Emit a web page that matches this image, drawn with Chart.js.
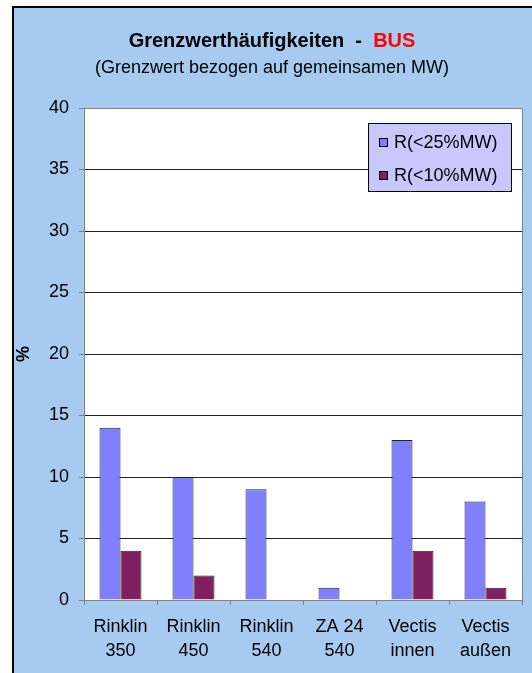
<!DOCTYPE html>
<html>
<head>
<meta charset="utf-8">
<script src="https://cdn.jsdelivr.net/npm/chart.js@4"></script>
<style>
  html, body { margin: 0; padding: 0; background: #fff; }
  #wrap { width: 532px; height: 673px; position: relative; }
</style>
</head>
<body>
<div id="wrap"><canvas id="grenzChart" width="532" height="673"></canvas></div>
<script>
// Werte
const categories = [['Rinklin', '350'], ['Rinklin', '450'], ['Rinklin', '540'], ['ZA 24', '540'], ['Vectis', 'innen'], ['Vectis', 'außen']];
const r25 = [14, 10, 9, 1, 13, 8];
const r10 = [4, 2, 0, 0, 4, 1];
const seriesLabels = ['R(<25%MW)', 'R(<10%MW)'];
const yMax = 40;
const yStep = 5;

const FONT = '"Liberation Sans", Arial, sans-serif';

// blue panel, title, frame and legend
const decor = {
  id: 'decor',
  beforeDraw(chart) {
    const ctx = chart.ctx;
    ctx.save();
    ctx.fillStyle = '#fff';
    ctx.fillRect(0, 0, chart.width, chart.height);
    ctx.fillStyle = '#000';
    ctx.fillRect(12, 6, chart.width, chart.height);
    ctx.fillStyle = '#a6caf0';
    ctx.fillRect(14, 8, chart.width, chart.height);
    const a = chart.chartArea;
    ctx.fillStyle = '#fff';
    ctx.fillRect(a.left, a.top, a.right - a.left, a.bottom - a.top);
    ctx.restore();
  },
  afterDraw(chart) {
    const ctx = chart.ctx;
    const a = chart.chartArea;
    ctx.save();
    // plot frame (top / right)
    ctx.strokeStyle = '#808080';
    ctx.lineWidth = 1;
    ctx.beginPath();
    ctx.moveTo(a.left, a.top + 0.5);
    ctx.lineTo(a.right + 0.5, a.top + 0.5);
    ctx.lineTo(a.right + 0.5, a.bottom);
    ctx.stroke();

    // title
    const cx = 272;
    ctx.textBaseline = 'alphabetic';
    ctx.font = 'bold 20px ' + FONT;
    const t1 = 'Grenzwerthäufigkeiten  -  ';
    const t2 = 'BUS';
    const w1 = ctx.measureText(t1).width;
    const w2 = ctx.measureText(t2).width;
    let x0 = cx - (w1 + w2) / 2;
    ctx.textAlign = 'left';
    ctx.fillStyle = '#000';
    ctx.fillText(t1, x0, 47);
    ctx.fillStyle = '#ff0000';
    ctx.fillText(t2, x0 + w1, 47);
    ctx.font = '18px ' + FONT;
    ctx.fillStyle = '#000';
    ctx.textAlign = 'center';
    ctx.fillText('(Grenzwert bezogen auf gemeinsamen MW)', cx, 73);

    // legend
    const lx = 368, ly = 123, lw = 143, lh = 68;
    ctx.fillStyle = '#c8c8ff';
    ctx.fillRect(lx, ly, lw, lh);
    ctx.strokeStyle = '#000';
    ctx.strokeRect(lx + 0.5, ly + 0.5, lw, lh);
    ctx.font = '18px ' + FONT;
    ctx.textAlign = 'left';
    ctx.textBaseline = 'middle';
    chart.data.datasets.forEach((ds, i) => {
      const yy = 142 + i * 33;
      ctx.fillStyle = ds.backgroundColor;
      ctx.fillRect(379, yy - 4, 8, 8);
      ctx.strokeStyle = '#000';
      ctx.strokeRect(379.5, yy - 3.5, 8, 8);
      ctx.fillStyle = '#000';
      ctx.fillText(ds.label, 394, yy + 1);
    });
    ctx.restore();
  }
};

const ctx = document.getElementById('grenzChart').getContext('2d');
new Chart(ctx, {
  type: 'bar',
  data: {
    labels: categories,
    datasets: [{
      label: seriesLabels[0],
      data: r25,
      backgroundColor: '#8080ff',
      borderColor: '#222',
      borderWidth: 1,
      categoryPercentage: 0.575,
      barPercentage: 1.0
    }, {
      label: seriesLabels[1],
      data: r10,
      backgroundColor: '#802060',
      borderColor: '#222',
      borderWidth: 1,
      categoryPercentage: 0.575,
      barPercentage: 1.0
    }]
  },
  options: {
    responsive: false,
    animation: false,
    layout: { padding: { top: 108, right: 10, left: 0, bottom: 0 } },
    plugins: {
      legend: { display: false },
      tooltip: { enabled: false }
    },
    scales: {
      x: {
        afterFit: scale => { scale.height = 73; },
        grid: { drawOnChartArea: false, drawTicks: true, tickLength: 5, color: '#808080', offset: true },
        border: { color: '#808080' },
        ticks: { color: '#000', font: { family: FONT, size: 18, lineHeight: 1.333 }, padding: 10, maxRotation: 0 }
      },
      y: {
        min: 0,
        max: yMax,
        afterFit: scale => { scale.width = 84; },
        grid: {
          color: c => (c.tick.value === 0 || c.tick.value === yMax) ? '#808080' : '#222',
          tickColor: '#808080',
          tickLength: 5
        },
        border: { color: '#808080' },
        ticks: { stepSize: yStep, color: '#000', font: { family: FONT, size: 18 }, padding: 10 },
        title: { display: true, text: '%', color: '#000', font: { family: FONT, size: 18, weight: 'bold' }, padding: { top: 13 } }
      }
    }
  },
  plugins: [decor]
});
</script>
</body>
</html>
